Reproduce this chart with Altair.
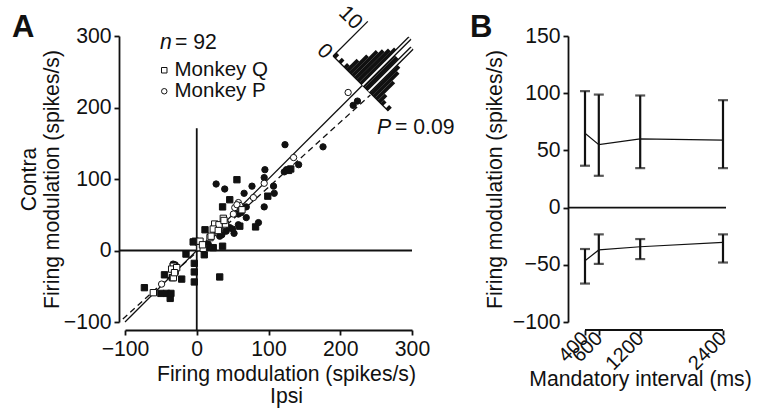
import altair as alt
import pandas as pd

FONT = "Liberation Sans"
FS = 21.2
INK = "#111111"

# ---------------- Panel A data ----------------
# filled circles (Monkey P)
fc_ipsi = [224, 218, 123, 176, 142, 122, 125, 95, 94, 107, 108, 94, 77, 66, 39, 27, 69, 58, 69, 46,
           58, 52, 86, 41, 32, 16, -33, 62, 35, 50, -30]
fc_contra = [209, 203, 148, 145, 120, 110, 113, 113, 102, 90, 80, 61, 90, 80, 86, 93, 61, 51, 46, 32,
             36, 24, 39, 27, 20, 9, -19, 53, 22, 30, -20]
# filled squares (Monkey Q)
fs_ipsi = [131, 128, 56, 46, 99, 36, 60, 82, 11.5, 23, 36, -5, 2, 10.5, -15, -3.4, -3.4, -3.4, 32,
           -45, -34, -21, -73, -50, -42, -37, 14, -36, -2]
fs_contra = [114, 112, 99, 71, 76, 61, 34, 33, 29, 4, 6, 12, 12, -6, -5, -18, -30, -44, -37,
             -34, -38, -40, -52, -60, -60, -67, 5, -60, 13]
# open circles (Monkey P)
oc_ipsi = [211, 135, 94, 79, 58, 53, 51, -49, 32, 60, 56]
oc_contra = [221, 130, 94, 74, 67, 60, 51, -47, 30, 63, 64]
# open squares (Monkey Q)
os_ipsi = [63, 37, 40, 25, 31, 23, 30, 18.5, 4.5, 4.5, 9, -32.6, -30, -32.6, -35, -60.5, 20, 8, -28, -31, 38]
os_contra = [57, 45, 37, 37, 36, 30, 28, 18, 13, 4, 3, -22, -29, -38, -26, -59, 20, 8, -24, -31, 42]

# unity line and regression (dashed) line end points
unity_x = [-100, 231]
fit_x = [-103, 242]
fit_y = [-95.7, 217.5]

# rotated histogram of contra-ipsi differences (counts per bin, along the anti-diagonal)
hist_counts = [1, 0, 1, 0, 1, 3, 5, 7, 8, 9, 10, 9, 9, 9, 8, 7, 5, 2, 1, 0, 1]
hist_start = (190.0, 272.0)
hist_end = (267.0, 195.0)
count_unit = 4.84          # data units per count along each axis
marker_lines = {"x": [231, 239.5], "y": [231, 222.5], "x2": [297, 300], "y2": [297, 283]}

# ---------------- Panel B data ----------------
intervals = [400, 600, 1200, 2400]
up_mean = [65, 55, 60, 59]
up_lo = [36.6, 27.8, 34.5, 34.5]
up_hi = [101.8, 98.8, 98, 93.9]
dn_mean = [-46.5, -37, -34.2, -30.4]
dn_lo = [-66.4, -49.2, -45, -48]
dn_hi = [-36.2, -23.4, -27.5, -23.4]

# ---------------- build tables ----------------
rows = []
for ip, co in zip(fc_ipsi, fc_contra):
    rows.append(dict(ipsi=ip, contra=co, monkey="Monkey P", fill="filled"))
for ip, co in zip(fs_ipsi, fs_contra):
    rows.append(dict(ipsi=ip, contra=co, monkey="Monkey Q", fill="filled"))
for ip, co in zip(oc_ipsi, oc_contra):
    rows.append(dict(ipsi=ip, contra=co, monkey="Monkey P", fill="open"))
for ip, co in zip(os_ipsi, os_contra):
    rows.append(dict(ipsi=ip, contra=co, monkey="Monkey Q", fill="open"))
scatter_df = pd.DataFrame(rows)

unity_df = pd.DataFrame({"x": unity_x, "y": unity_x})
fit_df = pd.DataFrame({"x": fit_x, "y": fit_y})

hrows = []
nb = len(hist_counts)
for i, c in enumerate(hist_counts):
    if c == 0:
        continue
    t = (i + 0.5) / nb
    bx = hist_start[0] + t * (hist_end[0] - hist_start[0])
    by = hist_start[1] + t * (hist_end[1] - hist_start[1])
    hrows.append(dict(x=bx, y=by, x2=bx + c * count_unit, y2=by + c * count_unit))
hist_df = pd.DataFrame(hrows)
base_df = pd.DataFrame({"x": [hist_start[0]], "y": [hist_start[1]], "x2": [hist_end[0]], "y2": [hist_end[1]]})
scalebar_df = pd.DataFrame({"x": [hist_start[0]], "y": [hist_start[1]],
                            "x2": [hist_start[0] + 10 * count_unit], "y2": [hist_start[1] + 10 * count_unit]})
scalelab_df = pd.DataFrame({"x": [178, 214], "y": [278, 325], "t": ["0", "10"]})
marker_df = pd.DataFrame(marker_lines)

up = pd.DataFrame({"interval": intervals, "mean": up_mean, "lo": up_lo, "hi": up_hi, "grp": "up"})
dn = pd.DataFrame({"interval": intervals, "mean": dn_mean, "lo": dn_lo, "hi": dn_hi, "grp": "down"})
b_df = pd.concat([up, dn], ignore_index=True)

# ---------------- Panel A ----------------
WA, H = 287, 286
xA = alt.Scale(domain=[-100, 300], nice=False, zero=False)
yA = alt.Scale(domain=[-100, 300], nice=False, zero=False)
axAx = alt.Axis(values=[-100, 0, 100, 200, 300], offset=8, titleX=161, labelFlush=False,
                title=["Firing modulation (spikes/s)", "Ipsi"], titleLineHeight=22, titlePadding=4)
axAy = alt.Axis(values=[-100, 0, 100, 200, 300], offset=6, labelFlush=False,
                title=["Contra", "Firing modulation (spikes/s)"], titleLineHeight=23, titlePadding=1)


def XA(f, t="quantitative"):
    return alt.X(f, type=t, scale=xA, axis=axAx)


def YA(f, t="quantitative"):
    return alt.Y(f, type=t, scale=yA, axis=axAy)


one = pd.DataFrame({"a": [0]})

h0 = alt.Chart(one).mark_rule(color=INK, strokeWidth=1.8).encode(
    y=alt.Y(datum=0, scale=yA, axis=axAy), x=alt.value(-6), x2=alt.value(WA))
v0 = alt.Chart(one).mark_rule(color=INK, strokeWidth=1.8).encode(
    x=alt.X(datum=0, scale=xA, axis=axAx), y=alt.Y(datum=171, scale=yA, axis=axAy), y2=alt.value(H + 8))

unity = alt.Chart(unity_df).mark_line(color=INK, strokeWidth=1.3).encode(x=XA("x"), y=YA("y"))
fit = alt.Chart(fit_df).mark_line(color=INK, strokeWidth=1.3, strokeDash=[6, 4]).encode(x=XA("x"), y=YA("y"))

hist = alt.Chart(hist_df).mark_rule(color=INK, strokeWidth=3.8, strokeCap="butt").encode(
    x=XA("x"), y=YA("y"), x2="x2", y2="y2")
hbase = alt.Chart(base_df).mark_rule(color=INK, strokeWidth=1.3).encode(x=XA("x"), y=YA("y"), x2="x2", y2="y2")
mk_out = alt.Chart(marker_df).mark_rule(color=INK, strokeWidth=4.5, strokeCap="butt").encode(
    x=XA("x"), y=YA("y"), x2="x2", y2="y2")
mk_in = alt.Chart(marker_df).mark_rule(color="white", strokeWidth=1.8, strokeCap="butt").encode(
    x=XA("x"), y=YA("y"), x2="x2", y2="y2")
sbar = alt.Chart(scalebar_df).mark_rule(color=INK, strokeWidth=1.3).encode(x=XA("x"), y=YA("y"), x2="x2", y2="y2")
slab = alt.Chart(scalelab_df).mark_text(font=FONT, fontSize=FS, angle=45, color=INK, align="center",
                                        baseline="middle").encode(x=XA("x"), y=YA("y"), text="t:N")

pts = alt.Chart(scatter_df).mark_point(filled=True, stroke=INK, strokeWidth=1, size=40, opacity=1).encode(
    x=XA("ipsi"), y=YA("contra"),
    shape=alt.Shape("monkey:N", scale=alt.Scale(domain=["Monkey Q", "Monkey P"], range=["square", "circle"]),
                    legend=alt.Legend(title=None, orient="none", legendX=29, legendY=24, labelFont=FONT,
                                      labelFontSize=20.5, labelColor=INK, symbolFillColor="white",
                                      symbolStrokeColor=INK, symbolStrokeWidth=1, symbolSize=30,
                                      rowPadding=0, labelOffset=0, padding=0)),
    fill=alt.Fill("fill:N", scale=alt.Scale(domain=["filled", "open"], range=[INK, "white"]), legend=None),
)


def txt(s, x, y, **kw):
    return alt.Chart(pd.DataFrame({"t": [s]})).mark_text(font=FONT, color=INK, **kw).encode(
        x=alt.value(x), y=alt.value(y), text="t:N")


n_i = txt("n", 35, 7, fontSize=FS, fontStyle="italic", align="left", baseline="middle")
n_t = txt("= 92", 50, 7, fontSize=FS, align="left", baseline="middle")
p_i = txt("P", 252, 92, fontSize=FS, fontStyle="italic", align="left", baseline="middle")
p_t = txt("= 0.09", 270, 92, fontSize=FS, align="left", baseline="middle")
labA = txt("A", -113, 1, fontSize=31, fontWeight="bold", align="left", baseline="alphabetic")

panelA = alt.layer(h0, v0, unity, fit, hbase, hist, mk_out, mk_in, sbar, slab, pts,
                   n_i, n_t, p_i, p_t, labA).properties(width=WA, height=H)

# ---------------- Panel B ----------------
WB = 158
xB = alt.Scale(domain=[153.6, 2443.5], nice=False, zero=False)
yB = alt.Scale(domain=[-100, 150], nice=False, zero=False)
axBx = alt.Axis(values=intervals, offset=8, domain=False, labelAngle=-45, labelAlign="right",
                labelBaseline="middle", labelOverlap=False, labelFlush=False, format="d", labelFontSize=20,
                title="Mandatory interval (ms)", titleX=72, titleY=38, labelPadding=0)
axBy = alt.Axis(values=[-100, -50, 0, 50, 100, 150], title="Firing modulation (spikes/s)",
                titlePadding=7, labelFlush=False)


def XB(f):
    return alt.X(f, type="quantitative", scale=xB, axis=axBx)


def YB(f):
    return alt.Y(f, type="quantitative", scale=yB, axis=axBy)


b0 = alt.Chart(one).mark_rule(color=INK, strokeWidth=1.8).encode(
    y=alt.Y(datum=0, scale=yB, axis=axBy), x=alt.value(0), x2=alt.value(WB))
bxline = alt.Chart(one).mark_rule(color=INK, strokeWidth=1.8).encode(
    x=alt.X(datum=400, scale=xB, axis=axBx), x2=alt.datum(2400), y=alt.value(H + 8))
bline = alt.Chart(b_df).mark_line(color=INK, strokeWidth=1.2).encode(x=XB("interval"), y=YB("mean"), detail="grp:N")
bbar = alt.Chart(b_df).mark_rule(color=INK, strokeWidth=2.2).encode(x=XB("interval"), y=YB("lo"), y2="hi")
bcap_lo = alt.Chart(b_df).mark_tick(color=INK, orient="horizontal", size=10, thickness=2.2).encode(
    x=XB("interval"), y=YB("lo"))
bcap_hi = alt.Chart(b_df).mark_tick(color=INK, orient="horizontal", size=10, thickness=2.2).encode(
    x=XB("interval"), y=YB("hi"))
labB = txt("B", -98, 1, fontSize=31, fontWeight="bold", align="left", baseline="alphabetic")

panelB = alt.layer(b0, bxline, bline, bbar, bcap_lo, bcap_hi, labB).properties(width=WB, height=H)

chart = alt.hconcat(panelA, panelB, spacing=156, bounds="flush").properties(
    padding={"left": 12, "top": 2, "right": 4, "bottom": 4}, background="white"
).configure_view(stroke=None).configure_axis(
    grid=False, domainColor=INK, domainWidth=1.8, tickColor=INK, tickWidth=1.8, tickSize=5,
    labelFont=FONT, labelFontSize=FS, labelColor=INK, labelPadding=3,
    titleFont=FONT, titleFontSize=FS, titleFontWeight="normal", titleColor=INK
)

chart.save("out.html", embed_options={"renderer": "svg", "actions": False})
